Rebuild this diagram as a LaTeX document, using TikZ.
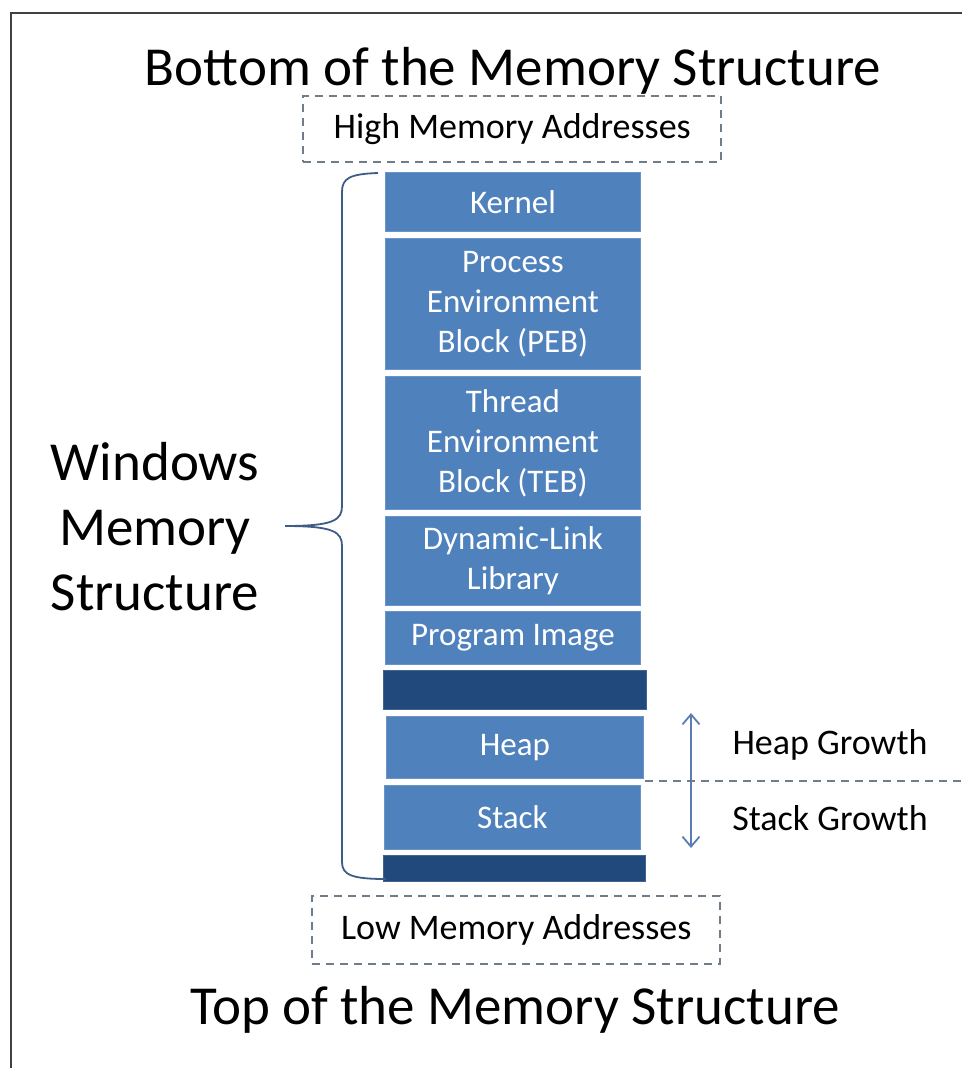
\documentclass[tikz,border=0pt]{standalone}
\usepackage{fontspec}
\setmainfont{Carlito}
\usetikzlibrary{arrows.meta}
\definecolor{boxblue}{HTML}{4F81BD}
\definecolor{darkblue}{HTML}{21497B}
\definecolor{dashgray}{HTML}{6F7C8A}
\definecolor{bracecol}{HTML}{3E5C85}
\definecolor{arrowcol}{HTML}{5B7DB3}
\definecolor{framecol}{HTML}{404040}
\tikzset{
  memblock/.style={fill=boxblue, draw=boxblue!85!white, line width=0.8pt, text=white, align=center,
    inner sep=0pt, anchor=north west, font=\fontsize{33}{40}\selectfont},
  gapblock/.style={fill=darkblue, draw=darkblue!85!white, line width=0.8pt, inner sep=0pt, anchor=north west},
  dashbox/.style={draw=dashgray, line width=2.4pt, dash pattern=on 8pt off 6pt, inner sep=0pt, anchor=north west},
  bigtext/.style={font=\fontsize{55}{65}\selectfont, align=center, text=black},
  midtext/.style={font=\fontsize{36}{43}\selectfont, text=black},
  growarrow/.style={draw=arrowcol, line width=1.8pt, {Straight Barb[length=10pt,width=17pt]}-{Straight Barb[length=10pt,width=17pt]}},
  bracepath/.style={draw=bracecol, line width=1.8pt},
  framepath/.style={draw=framecol, line width=1.8pt}
}
\begin{document}
\begin{tikzpicture}[x=1pt,y=-1pt]
\useasboundingbox (0,0) rectangle (962,1068);
\fill[white] (0,0) rectangle (962,1068);
% frame
\coordinate (fbl) at (11,1068);
\coordinate (ftl) at (11,13);
\coordinate (ftr) at (962,13);
\draw[framepath] (fbl) -- (ftl) -- (ftr);

% titles
\node[bigtext] (toptitle) at (513,71) {Bottom of the Memory Structure};
\node[bigtext] (bottitle) at (515,1010) {Top of the Memory Structure};

% dashed address boxes
\node[dashbox, minimum width=418pt, minimum height=66pt] (high) at (302,95) {};
\node[midtext] (hightext) at (high.center) {High Memory Addresses};
\node[dashbox, minimum width=408pt, minimum height=68pt] (low) at (311,895) {};
\node[midtext] (lowtext) at (low.center) {Low Memory Addresses};

% memory blocks
\node[memblock, minimum width=255pt, minimum height=59pt] (kernel) at (385,172) {Kernel};
\node[memblock, minimum width=255pt, minimum height=131pt] (peb) at (385,238) {Process\\Environment\\Block (PEB)};
\node[memblock, minimum width=255pt, minimum height=133pt] (teb) at (385,376) {Thread\\Environment\\Block (TEB)};
\node[memblock, minimum width=255pt, minimum height=89pt] (dll) at (385,516) {Dynamic-Link\\Library};
\node[memblock, minimum width=255pt, minimum height=53pt] (prog) at (385,611) {Program Image};
\node[gapblock, minimum width=263pt, minimum height=39pt] (gapa) at (383,670) {};
\node[memblock, minimum width=257pt, minimum height=62pt] (heap) at (386,716) {Heap};
\node[memblock, minimum width=256pt, minimum height=64pt] (stack) at (384,785) {Stack};
\node[gapblock, minimum width=262pt, minimum height=26pt] (gapb) at (383,855) {};

% brace
\coordinate (btop) at (378,173);
\coordinate (btip) at (285,526);
\coordinate (bbot) at (386,879);
\draw[bracepath] (btop) .. controls (350,174) and (342,178) .. (342,192) -- (342,506)
  .. controls (342,520) and (334,526) .. (btip)
  .. controls (334,526) and (342,532) .. (342,546) -- (342,862)
  .. controls (342,875) and (352,879) .. (bbot);
\node[bigtext] (wms) at (155,527) {Windows\\Memory\\Structure};

% growth arrow and divider
\coordinate (atop) at (691,713);
\coordinate (abot) at (691,848);
\draw[growarrow] (atop) -- (abot);
\coordinate (dl) at (645,781);
\coordinate (dr) at (962,781);
\draw[draw=dashgray, line width=2.4pt, dash pattern=on 8pt off 6pt] (dl) -- (dr);
\node[midtext] (heapg) at (830,745) {Heap Growth};
\node[midtext] (stackg) at (830,818) {Stack Growth};
\end{tikzpicture}
\end{document}
